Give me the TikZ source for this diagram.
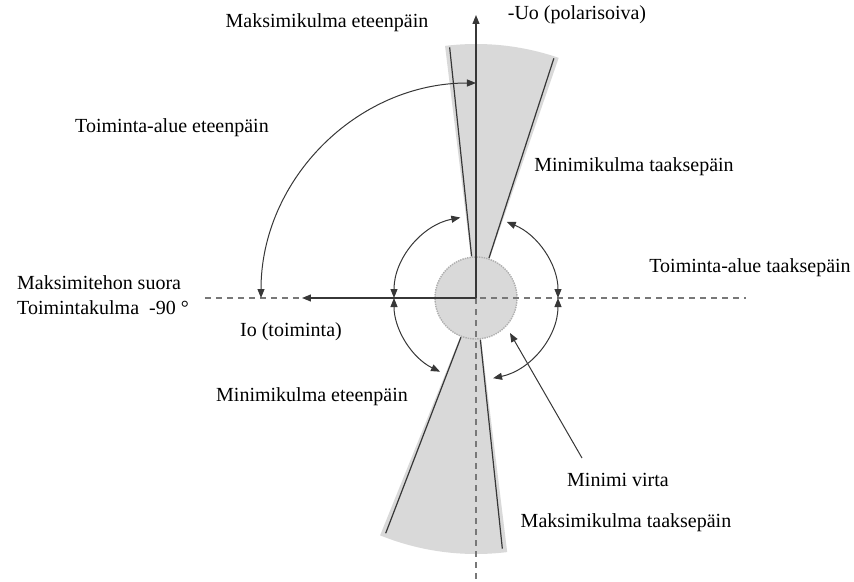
\documentclass[tikz,border=0pt]{standalone}
\usepackage{fontspec}
\setmainfont{Liberation Serif}
\usetikzlibrary{arrows.meta, positioning}
\definecolor{Harmaa}{RGB}{217,217,217}
\definecolor{Reuna}{RGB}{175,175,175}
\definecolor{Tumma}{RGB}{55,55,55}
\definecolor{Katko}{RGB}{120,120,120}

\begin{document}
\begin{tikzpicture}[
        x=1pt, y=1pt,
        >={Triangle[length=9pt,width=7pt]},
        txt/.style={
            inner sep=0pt,
            font=\fontsize{20}{23}\selectfont
        },
        sector/.style={
            fill=Harmaa,
            draw=none
        },
        rim/.style={
            draw=Tumma,
            line width=1.2pt
        },
        guide/.style={
            draw=Katko,
            line width=1.2pt,
            dash pattern=on 6pt off 5pt
        },
        axis/.style={
            ->,
            draw=Tumma,
            line width=1.2pt
        },
        span/.style={
            <->,
            draw=Tumma,
            line width=1pt
        }
    ]
        \useasboundingbox (-476,-283) rectangle (378,298);

        % Shaded sectors
        \fill[sector] (0,0) -- (71:254) arc[start angle=71, end angle=97, radius=254] -- cycle;
        \fill[sector] (0,0) -- (248:256) arc[start angle=248, end angle=277, radius=256] -- cycle;

        % Minimum current circle
        \node[circle, minimum size=82pt, inner sep=0pt, fill=Harmaa, draw=Reuna, line width=1.4pt, densely dotted] (core) at (0,0) {};

        % Reference lines
        \coordinate (lineW) at (-271,0);
        \coordinate (lineE) at (270,0);
        \coordinate (lineS) at (0,-282);
        \draw[guide] (lineW) -- (lineE);
        \draw[guide] (core.center) -- (lineS);

        % Polarising and operating quantities
        \coordinate (uoTip) at (0,283);
        \coordinate (ioTip) at (-174,0);
        \draw[axis] (core.center) -- (uoTip);
        \draw[axis] (core.center) -- (ioTip);

        % Sector boundary lines
        \foreach \a in {96,72,249,276}
            \draw[rim] (\a:42) -- (\a:252);

        % Angle arcs
        \draw[span] (90:215) arc[start angle=90, end angle=180, radius=215];
        \draw[span] (101:82) arc[start angle=101, end angle=180, radius=82];
        \draw[span] (180:82) arc[start angle=180, end angle=244, radius=82];
        \draw[span] (68:82) arc[start angle=68, end angle=0, radius=82];
        \draw[span] (0:82) arc[start angle=0, end angle=-78, radius=82];

        % Labels
        \node[txt] (maxfwd) at (-149,275) {Maksimikulma eteenpäin};
        \node[txt] (uo) at (101,283) {-Uo (polarisoiva)};
        \node[txt] (rangefwd) at (-304,170) {Toiminta-alue eteenpäin};
        \node[txt] (minback) at (158,131) {Minimikulma taaksepäin};
        \node[txt] (rangeback) at (274,30) {Toiminta-alue taaksepäin};
        \node[txt, anchor=west] (maxpow) at (-459,15) {Maksimitehon suora};
        \node[txt, anchor=west] (opangle) at (-459,-10) {Toimintakulma\ \ -90 °};
        \node[txt] (io) at (-185,-34) {Io (toiminta)};
        \node[txt] (minfwd) at (-164,-99) {Minimikulma eteenpäin};
        \node[txt] (mincur) at (142,-182) {Minimi virta};
        \node[txt] (maxback) at (150,-225) {Maksimikulma taaksepäin};

        % Pointer to the circle
        \coordinate (virtaStart) at (106,-160);
        \coordinate (virtaTip) at (34,-35);
        \draw[axis, line width=1pt] (virtaStart) -- (virtaTip);
    \end{tikzpicture}
\end{document}
